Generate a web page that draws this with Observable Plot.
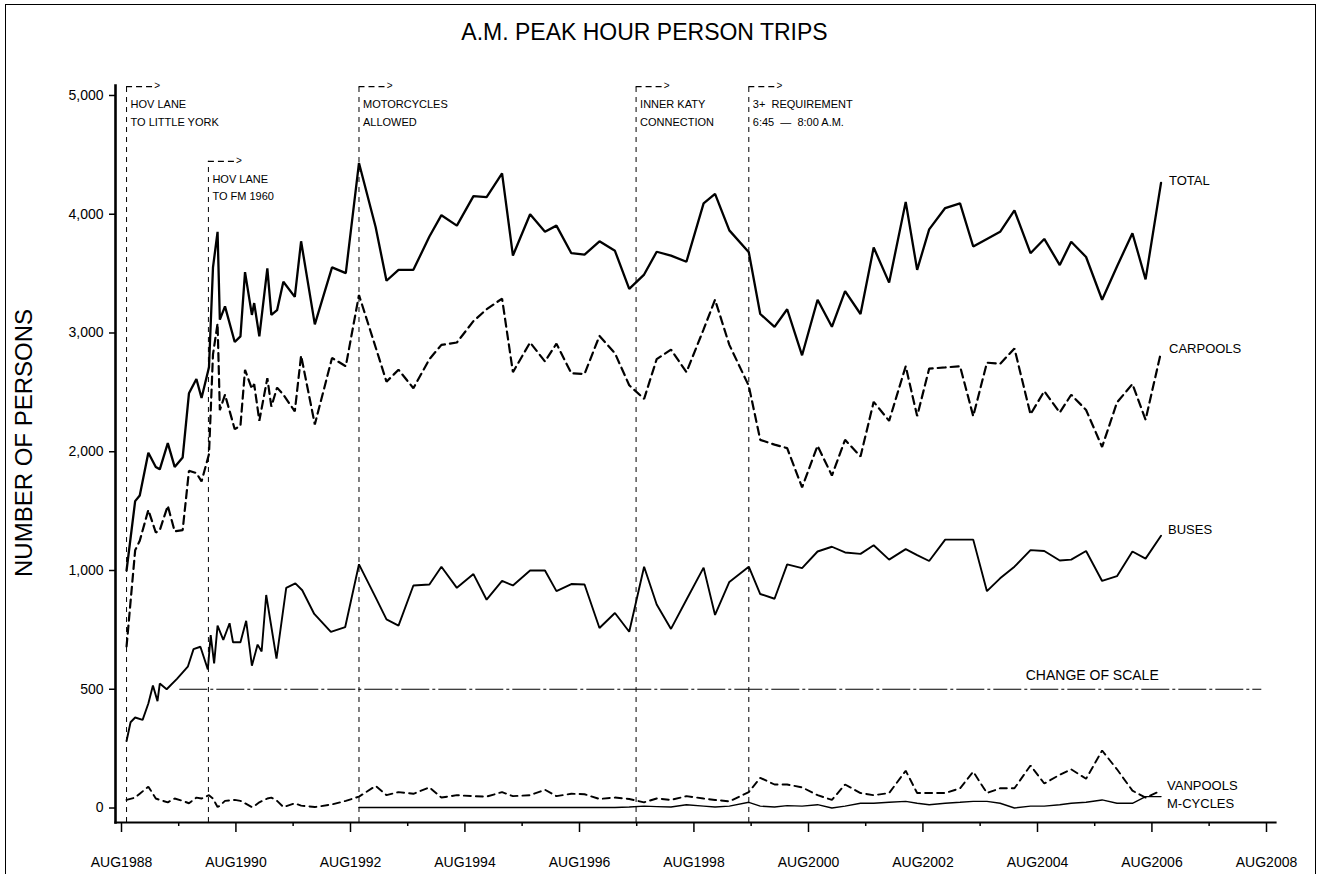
<!DOCTYPE html>
<html>
<head>
<meta charset="utf-8">
<script src="https://cdn.jsdelivr.net/npm/d3@7"></script>
<script src="https://cdn.jsdelivr.net/npm/@observablehq/plot@0.6"></script>
<style>
html, body { margin: 0; padding: 0; background: #fff; }
#wrap { position: relative; width: 1323px; height: 874px; overflow: hidden; background: #fff; }
#chart { position: absolute; left: 0; top: 0; }
#border { position: absolute; left: 5px; top: 4px; width: 1311px; height: 900px; border: 1.5px solid #000; box-sizing: border-box; pointer-events: none; }
</style>
</head>
<body>
<div id="wrap"><div id="chart"></div><div id="border"></div></div>
<script>
// ---------------- DATA (survey dates as decimal years) ----------------
const totalDates = [
  1988.67, 1988.82, 1988.90,
  1989.05, 1989.18, 1989.25, 1989.39, 1989.51, 1989.65, 1989.76, 1989.89, 1989.98,
  1990.11, 1990.18, 1990.26, 1990.30, 1990.39, 1990.56, 1990.66, 1990.74, 1990.86, 1990.90, 1990.99,
  1991.13, 1991.20, 1991.30, 1991.41, 1991.61, 1991.72, 1991.96,
  1992.26, 1992.50, 1992.73,
  1993.02, 1993.21, 1993.42, 1993.68, 1993.96,
  1994.17, 1994.44, 1994.73, 1994.96,
  1995.23, 1995.42, 1995.72, 1995.98,
  1996.18, 1996.44, 1996.67, 1996.93,
  1997.20, 1997.45, 1997.71, 1997.93,
  1998.18, 1998.45, 1998.75, 1998.95,
  1999.20, 1999.54, 1999.74, 1999.99,
  2000.21, 2000.47, 2000.74, 2000.99,
  2001.22, 2001.49, 2001.72, 2001.99,
  2002.28, 2002.48, 2002.69, 2002.97,
  2003.23, 2003.46, 2003.70, 2003.93,
  2004.18, 2004.46, 2004.70, 2004.97,
  2005.17, 2005.43, 2005.71, 2005.97,
  2006.24, 2006.47, 2006.74
];
const totalValues = [
  1000, 1584, 1632,
  1992, 1872, 1852, 2072, 1872, 1952, 2492, 2612, 2452,
  2712, 3552, 3852, 3112, 3224, 2924, 2972, 3512, 3152, 3252, 2972,
  3544, 3152, 3192, 3432, 3304, 3772, 3072,
  3552, 3504, 4432,
  3892, 3440, 3532, 3532, 3812,
  3992, 3904, 4152, 4144,
  4344, 3652, 4000, 3852,
  3904, 3672, 3660, 3772,
  3692, 3372, 3492, 3684,
  3652, 3600, 4092, 4172,
  3864, 3680, 3160, 3052,
  3200, 2812, 3280, 3052,
  3352, 3160, 3720, 3424,
  4104, 3532, 3872, 4052,
  4092, 3728, 3792, 3852,
  4032, 3672, 3792, 3572,
  3768, 3640, 3280, 3560,
  3840, 3452, 4264
];
const carpoolValues = [
  680, 1170, 1250,
  1510, 1320, 1340, 1545, 1330, 1340, 1840, 1820, 1750,
  1980, 2820, 3080, 2350, 2480, 2190, 2220, 2690, 2530, 2570, 2260,
  2620, 2380, 2540, 2480, 2340, 2810, 2230,
  2790, 2720, 3320,
  2880, 2590, 2690, 2535, 2780,
  2900, 2920, 3100, 3200,
  3290, 2670, 2920, 2760,
  2910, 2660, 2655, 2975,
  2830, 2560, 2445, 2780,
  2860, 2670, 3030, 3280,
  2900, 2555, 2100, 2060,
  2030, 1700, 2050, 1800,
  2100, 1960, 2420, 2260,
  2720, 2300, 2700, 2710,
  2720, 2300, 2750, 2740,
  2870, 2315, 2510, 2330,
  2480, 2352, 2040, 2415,
  2570, 2270, 2840
];
const vanpoolValues = [
  34, 44, 60,
  90, 40, 34, 24, 40, 30, 20, 44, 40,
  54, 40, 4, 10, 30, 34, 30, 20, 4, 8, 24,
  40, 44, 30, 4, 20, 10, 4,
  15, 30, 48,
  93, 54, 67, 60, 87,
  44, 54, 50, 48,
  67, 50, 54, 77,
  50, 60, 58, 38,
  44, 38, 24, 40,
  34, 50, 40, 34,
  28, 67, 127, 99,
  99, 87, 54, 34,
  99, 63, 54, 63,
  157, 63, 63, 63,
  83, 153, 63, 83,
  83, 179, 103, 140,
  163, 123, 242, 163,
  73, 44, 73
];
// buses: denser early counts, then the same quarterly survey dates (from Aug 1992 on)
const busEarlyDates = [
  1988.67, 1988.74, 1988.82, 1988.95, 1989.05, 1989.13, 1989.21, 1989.25, 1989.37, 1989.55,
  1989.74, 1989.84, 1989.96, 1990.09, 1990.14, 1990.20, 1990.26, 1990.36, 1990.47, 1990.53,
  1990.66, 1990.76, 1990.86, 1990.96, 1991.03, 1991.11, 1991.19, 1991.29, 1991.46, 1991.62,
  1991.74, 1991.95, 1992.24, 1992.49
];
const busValues = [
  282, 361, 381, 371, 440, 516, 450, 524, 500, 544,
  595, 669, 679, 583, 728, 609, 768, 708, 778, 698,
  698, 788, 599, 688, 659, 897, 778, 629, 927, 946,
  917, 817, 742, 762,
  1052,
  887, 794, 768, 937, 941,
  1032, 927, 985, 877,
  956, 937, 1000, 1000,
  913, 943, 941, 758,
  821, 742, 1032, 857,
  754, 877, 1024, 813,
  952, 1032, 901, 881,
  1052, 1020, 1160, 1200,
  1152, 1140, 1212, 1092,
  1180, 1130, 1080, 1260,
  1260, 1260, 913, 967,
  1032, 1172, 1164, 1084,
  1092, 1164, 956, 976,
  1160, 1100, 1292
];
// motorcycles: counted from Aug 1992 (motorcycles allowed)
const mcycleValues = [
  2,
  2, 2, 2, 2, 2,
  2, 2, 2, 2,
  2, 2, 2, 2,
  2, 2, 2, 2,
  2, 4, 8, 6,
  4, 14, 8, 4,
  8, 24, 8, 4,
  10, 8, 14, 0,
  8, 20, 20, 24,
  28, 20, 14, 20,
  24, 28, 28, 20,
  0, 8, 8, 14,
  20, 24, 34, 20,
  20, 48, 48
];
const eventDates = [1988.67, 1990.10, 1992.73, 1997.57, 1999.54];
const eventLabels = [
  "HOV LANE\nTO LITTLE YORK",
  "HOV LANE\nTO FM 1960",
  "MOTORCYCLES\nALLOWED",
  "INNER KATY\nCONNECTION",
  "3+  REQUIREMENT\n6:45  —  8:00 A.M."
];
const yTicks = [0, 500, 1000, 2000, 3000, 4000, 5000];
const labelledYears = d3.range(1988, 2009, 2);
const otherYears = d3.range(1989, 2008, 2);

// ---------------- helpers ----------------
const toDate = t => {
  const y = Math.floor(t);
  const a = Date.UTC(y, 0, 1), b = Date.UTC(y + 1, 0, 1);
  return new Date(a + (t - y) * (b - a));
};
const aug = y => new Date(Date.UTC(y, 7, 1));

// change of scale at 1,000: below it one person takes twice the height it takes above
const toScale = v => (v <= 1000 ? 2 * v : v + 1000);
const fromScale = u => (u <= 2000 ? u / 2 : u - 1000);

const surveyFromAug92 = totalDates.filter(t => t >= 1992.73);
const busDates = busEarlyDates.concat(surveyFromAug92);

const series = [
  {name: "TOTAL", dates: totalDates, values: totalValues, sw: 2.3, dash: null, ldy: -2, ldx: 8},
  {name: "CARPOOLS", dates: totalDates, values: carpoolValues, sw: 2.2, dash: "8,5", ldy: -3, ldx: 8},
  {name: "BUSES", dates: busDates, values: busValues, sw: 1.9, dash: null, ldy: -6, ldx: 7},
  {name: "VANPOOLS", dates: totalDates, values: vanpoolValues, sw: 1.9, dash: "7,5", ldy: -5, ldx: 6},
  {name: "M-CYCLES", dates: surveyFromAug92, values: mcycleValues, sw: 1.4, dash: null, ldy: 7, ldx: 6}
];
const rows = s => s.dates.map((t, i) => ({date: toDate(t), value: s.values[i]}));

// axis offsets (the axes sit slightly outside the data area)
const yFloor = -61, yCeil = 5084;
const eventTop = [5075, 4445, 5075, 5075, 5075];
const events = eventDates.map((t, i) => ({t, date: toDate(t), label: eventLabels[i], level: eventTop[i]}));
const Y = d => toScale(d.value);

const marks = [
  Plot.frame({anchor: "left", strokeWidth: 2.6}),
  Plot.frame({anchor: "bottom", strokeWidth: 2.2}),
  Plot.axisY({ticks: yTicks.map(toScale), tickFormat: u => d3.format(",")(fromScale(u)), tickSize: 6, tickPadding: 6, fontSize: 14, label: null, strokeWidth: 1.5}),
  Plot.axisX({ticks: labelledYears.map(aug), tickSize: 10, tickPadding: 25, tickFormat: d => "AUG" + d.getUTCFullYear(), fontSize: 14, label: null, strokeWidth: 1.5}),
  Plot.axisX({ticks: otherYears.map(aug), tickSize: 4, tickFormat: () => "", label: null, strokeWidth: 1.5}),
  // change of scale
  Plot.ruleY([500], {y: toScale, x1: toDate(1989.6), x2: toDate(2008.5), stroke: "#000", strokeWidth: 1.2, strokeDasharray: "28,3,3,3"}),
  Plot.text(["CHANGE OF SCALE"], {x: toDate(2006.70), y: () => toScale(500), dy: -14, textAnchor: "end", fontSize: 14}),
  // events
  Plot.ruleX(events, {x: "date", y1: () => toScale(yFloor), y2: d => toScale(d.level), stroke: "#000", strokeWidth: 1, strokeDasharray: "5,5"}),
  Plot.ruleY(events, {y: d => toScale(d.level), x1: "date", x2: d => toDate(d.t + 0.5), stroke: "#000", strokeWidth: 1.3, strokeDasharray: "6,4"}),
  Plot.text(events, {x: d => toDate(d.t + 0.5), y: d => toScale(d.level), text: () => ">", textAnchor: "start", dx: -1, dy: -1, fontSize: 10}),
  Plot.text(events, {x: "date", y: d => toScale(d.level), text: "label", textAnchor: "start", lineAnchor: "top", dx: 4, dy: 9, lineHeight: 1.6, fontSize: 11}),
  // titles
  Plot.text(["A.M. PEAK HOUR PERSON TRIPS"], {frameAnchor: "top", textAnchor: "middle", lineAnchor: "middle", dx: -51, dy: -53, fontSize: 23}),
  Plot.text(["NUMBER OF PERSONS"], {frameAnchor: "left", textAnchor: "middle", lineAnchor: "middle", rotate: -90, dx: -91, dy: -11, fontSize: 24})
];
for (const s of series) {
  const r = rows(s);
  marks.push(Plot.lineY(r, {x: "date", y: Y, stroke: "#000", strokeWidth: s.sw, strokeDasharray: s.dash, strokeLinejoin: "miter"}));
  marks.push(Plot.text([r[r.length - 1]], {x: "date", y: Y, text: () => s.name, textAnchor: "start", dx: s.ldx, dy: s.ldy, fontSize: 13}));
}

const chart = Plot.plot({
  width: 1323,
  height: 874,
  marginTop: 85,
  marginRight: 48,
  marginBottom: 52,
  marginLeft: 115,
  style: {fontFamily: "'Liberation Sans', Arial, sans-serif", fontSize: "14px", color: "#000", background: "transparent", overflow: "visible"},
  x: {type: "utc", domain: [aug(1988), aug(2008)], range: [121, 1266]},
  y: {domain: [toScale(yFloor), toScale(yCeil)]},
  marks
});
document.getElementById("chart").appendChild(chart);
</script>
</body>
</html>
